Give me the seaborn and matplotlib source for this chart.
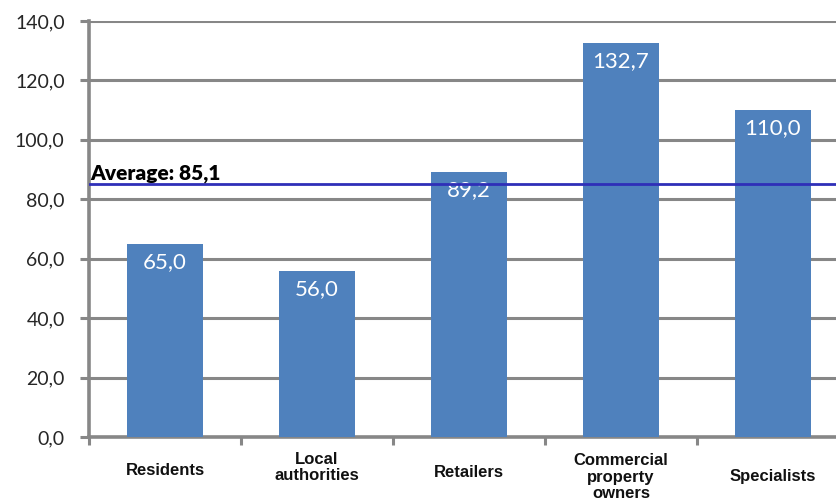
import matplotlib
matplotlib.use("Agg")
import matplotlib.pyplot as plt
import seaborn as sns
import pandas as pd
import numpy as np

# Data
categories = ["Residents", "Local\nauthorities", "Retailers",
              "Commercial\nproperty\nowners", "Specialists"]
values = [65.0, 56.0, 89.2, 132.7, 110.0]
average = 85.1
y_ticks = [0, 20, 40, 60, 80, 100, 120, 140]

df = pd.DataFrame({"group": categories, "value": values})

sns.set_theme(style="white")
plt.rcParams["font.family"] = ["Lato", "DejaVu Sans"]

grey = "#878787"
bar_color = "#4F81BD"

fig = plt.figure(figsize=(8.37, 5.03), dpi=100)
ax = fig.add_axes([89 / 837, 66 / 503, 760 / 837, 416 / 503])

sns.barplot(data=df, x="group", y="value", color=bar_color, width=0.5,
            saturation=1, ax=ax, zorder=3, edgecolor="none")

ax.set_xlim(-0.5, len(categories) - 0.5)
ax.set_ylim(0, 140)
ax.set_xlabel("")
ax.set_ylabel("")

# Horizontal gridlines
ax.set_yticks(y_ticks)
ax.set_yticklabels([f"{v:.1f}".replace(".", ",") for v in y_ticks], fontsize=14)
ax.yaxis.grid(True, color=grey, linewidth=2.2, zorder=0)
ax.set_axisbelow(True)
ax.tick_params(axis="y", length=6.5, width=2.2, color=grey, pad=11, left=True)

# Category labels and boundary ticks
ax.set_xticks(range(len(categories)))
ax.set_xticklabels([])
ax.set_xticks(np.arange(-0.5, len(categories) - 0.5, 1.0), minor=True)
ax.tick_params(axis="x", which="major", length=0)
ax.tick_params(axis="x", which="minor", length=6, width=2.2, color=grey,
               bottom=True, direction="out")

label_y = [-11.4, -10.3, -12.0, -13.6, -13.4]
for i, (cat, ly) in enumerate(zip(categories, label_y)):
    kw = {}
    if i == 3:
        kw["bbox"] = dict(facecolor="white", edgecolor="none", pad=1.5)
    ax.text(i, ly, cat, ha="center", va="center", fontsize=12,
            fontweight="bold", family="Liberation Sans", color="#111111",
            linespacing=1.12, clip_on=False, zorder=5, **kw)

for side in ["top", "right"]:
    ax.spines[side].set_visible(False)
for side in ["left", "bottom"]:
    ax.spines[side].set_color(grey)
    ax.spines[side].set_linewidth(2.6)

# Value labels inside bar tops
for i, v in enumerate(values):
    ax.annotate(f"{v:.1f}".replace(".", ","), xy=(i, v), xytext=(0, -6),
                textcoords="offset points", ha="center", va="top",
                color="white", fontsize=16, zorder=4)

# Average line
ax.axhline(average, color="#2F2FB8", linewidth=2.0, zorder=4)
ax.annotate(f"Average: {average:.1f}".replace(".", ","), xy=(-0.5, average),
            xytext=(1, 1), textcoords="offset points", ha="left", va="bottom",
            fontsize=15, fontweight="heavy", color="black", zorder=5)

fig.savefig("out.png", dpi=100)
